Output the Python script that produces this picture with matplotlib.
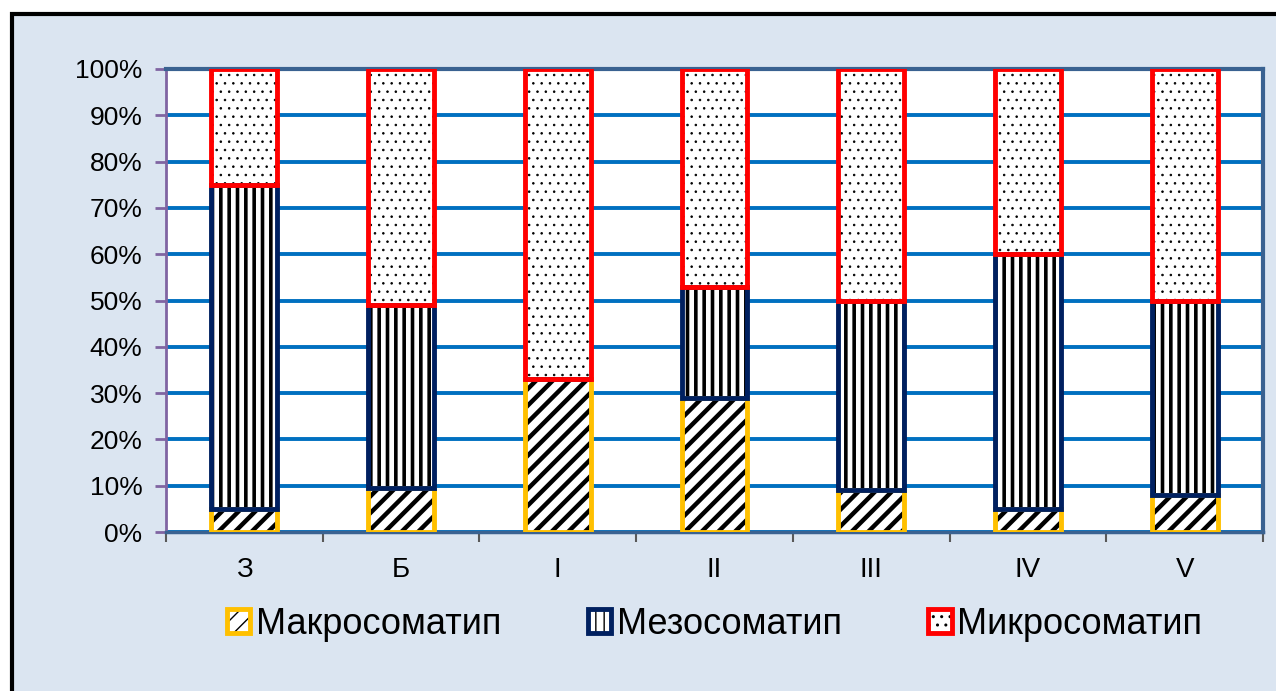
import numpy as np
import matplotlib.pyplot as plt
from matplotlib.patches import Patch, Rectangle
from matplotlib.ticker import PercentFormatter
from matplotlib.legend_handler import HandlerTuple

plt.rcParams['font.family'] = ['Liberation Sans', 'DejaVu Sans']

groups = ['З', 'Б', 'I', 'II', 'III', 'IV', 'V']
macro = [5, 9.5, 33, 29, 9, 5, 8]
meso = [70, 39.5, 0, 24, 41, 55, 42]
micro = [25, 51, 67, 47, 50, 40, 50]

names = ['Макросоматип', 'Мезосоматип', 'Микросоматип']
edge_cols = ['#FFC000', '#002060', '#FF0000']
hatches = ['//', '||', '..']
hatch_lw = [3.2, 2.6, 0.6]

fig = plt.figure(figsize=(12.76, 6.91), dpi=100)
fig.patch.set_facecolor('white')
# outer chart frame (only left and top border visible)
fig.patches.append(Rectangle((11.5 / 1276, -0.1), 1.2, (691 - 13.5) / 691 + 0.1,
                             transform=fig.transFigure, facecolor='#DBE5F1',
                             edgecolor='black', linewidth=3, zorder=-1))

ax = fig.add_axes([166 / 1276, 1 - 532 / 691, (1263 - 166) / 1276, (532 - 69) / 691])
ax.set_facecolor('white')

x = np.arange(len(groups))
w = 0.42
bottom = np.zeros(len(groups))
handles = []
for vals, col, h, hlw in zip([macro, meso, micro], edge_cols, hatches, hatch_lw):
    vals = np.array(vals, dtype=float)
    with plt.rc_context({'hatch.linewidth': hlw}):
        bars = ax.bar(x, vals, w, bottom=bottom, color='white', hatch=h,
                      edgecolor='black', linewidth=0, zorder=3)
        hp = Patch(facecolor='white', hatch=h, edgecolor='black', linewidth=0)
    for b in list(bars) + [hp]:
        if hasattr(b, 'set_hatch_linewidth'):
            b.set_hatch_linewidth(hlw)
    ax.bar(x, vals, w, bottom=bottom, fill=False, edgecolor=col,
           linewidth=3.5, zorder=4)
    bottom += vals
    handles.append((hp, Patch(fill=False, edgecolor=col, linewidth=3.5)))

ax.set_xlim(-0.5, len(groups) - 0.5)
ax.set_ylim(0, 100)
ax.set_yticks(np.arange(0, 101, 10))
ax.yaxis.set_major_formatter(PercentFormatter(decimals=0))
ax.set_xticks(x)
ax.set_xticklabels(groups)
ax.set_xticks(np.arange(-0.5, len(groups), 1), minor=True)
ax.tick_params(axis='x', which='major', length=0, labelsize=20, pad=18)
ax.tick_params(axis='x', which='minor', length=7, width=1.5, color='#595959')
ax.tick_params(axis='y', length=8, width=2, color='#8064A2', labelsize=19, pad=9)

ax.yaxis.grid(True, color='#0070C0', linewidth=2.8, zorder=1)
ax.set_axisbelow(True)

for s in ['top', 'right']:
    ax.spines[s].set_color('#3A6291')
    ax.spines[s].set_linewidth(3)
ax.spines['bottom'].set_color('#3A6291')
ax.spines['bottom'].set_linewidth(2.5)
ax.spines['left'].set_color('#8064A2')
ax.spines['left'].set_linewidth(2)

ax.legend(handles, names, loc='center', bbox_to_anchor=(0.5, -0.2),
          ncol=3, frameon=False, fontsize=26, handlelength=0.65,
          handleheight=0.65, handletextpad=0.15, columnspacing=2.4,
          handler_map={tuple: HandlerTuple(ndivide=1)})

fig.savefig('out.png', dpi=100)
